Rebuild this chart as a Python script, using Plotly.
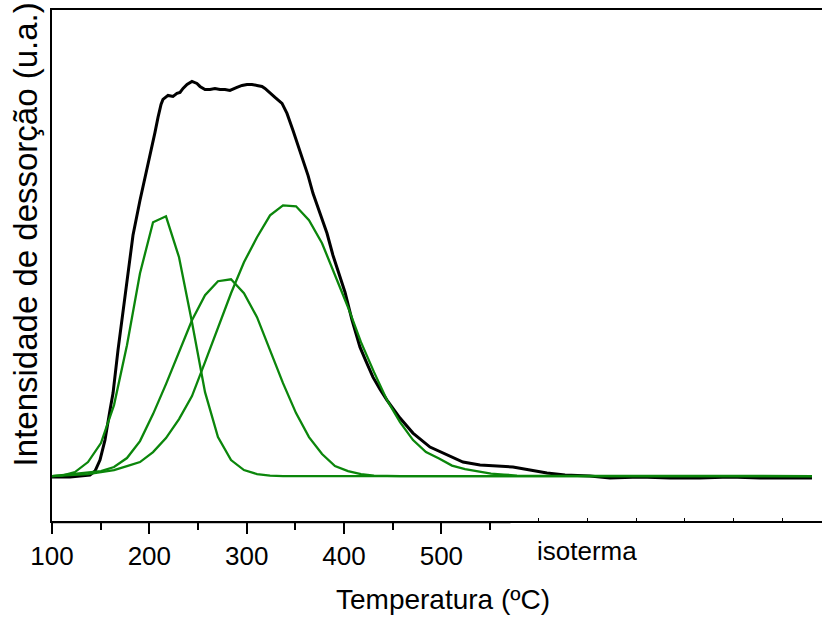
import plotly.graph_objects as go

# ---- data ----
# measured TPD signal (black)
black_T = [100.0, 118.5, 139.0, 144.2, 149.3, 154.4, 159.6, 162.7, 167.8, 172.9, 178.1, 183.2,
           190.4, 195.5, 200.7, 205.8, 208.9, 212.0, 214.0, 219.2, 224.3, 228.4, 231.5, 234.6,
           238.7, 243.8, 248.9, 252.0, 257.2, 262.3, 267.4, 272.6, 277.7, 282.8, 290.0, 295.2,
           300.3, 305.4, 310.6, 315.7, 318.8, 323.9, 329.1, 336.3, 341.4, 347.6, 352.7, 357.8,
           363.0, 368.1, 375.3, 382.5, 388.6, 395.8, 401.0, 408.2, 416.4, 422.5, 429.7, 436.9,
           444.1, 457.5, 470.8, 488.3, 505.8, 522.2, 539.7, 557.1, 573.5, 591.0, 608.5, 627.0,
           652.6, 673.2, 704.0, 734.8, 765.6, 796.5, 827.3, 858.0, 880.7]
black_I = [-1, -1, 1, 5, 16, 36, 66, 83, 126, 163, 206, 241,
           276, 298, 319, 344, 359, 372, 377, 381, 380, 383, 384, 388,
           392, 395, 393, 390, 387, 387, 388, 387, 387, 386, 389, 391,
           392, 392, 391, 390, 388, 384, 379, 373, 363, 346, 331, 316,
           301, 283, 263, 243, 221, 199, 184, 156, 129, 115, 99, 87,
           76, 58, 43, 29, 21, 14, 11, 10, 9, 6, 3, 1,
           0, -2, -1, -2, -2, -1, -2, -2, -2]

# deconvoluted components (green)
fit_T = [100.0, 110.3, 123.6, 137.0, 150.3, 163.7, 177.0, 190.4, 203.8, 217.1, 230.5, 243.8,
         257.2, 270.5, 283.9, 297.2, 310.6, 324.0, 337.3, 350.7, 364.0, 377.4, 390.7, 404.1,
         417.4, 430.8, 444.2, 457.5, 470.9, 484.2, 497.6, 510.9, 524.3, 537.6, 551.0, 564.3,
         577.7, 880.7]
peak1 = [0, 0.5, 4, 14, 33, 71, 131, 203, 254, 260, 219, 154,
         84, 39, 16, 6, 2, 0.5, 0, 0, 0, 0, 0, 0,
         0, 0, 0, 0, 0, 0, 0, 0, 0, 0, 0, 0, 0, 0]
peak2 = [0, 1, 2, 3, 5, 9, 18, 35, 62, 92, 125, 156,
         181, 195, 197, 183, 159, 126, 93, 63, 39, 22, 10, 5,
         2, 0.5, 0, 0, 0, 0, 0, 0, 0, 0, 0, 0, 0, 0]
peak3 = [0, 0.5, 1, 2, 4, 6, 10, 14, 24, 38, 57, 80,
         114, 149, 183, 214, 239, 261, 271, 270, 256, 233, 202, 169,
         134, 104, 76, 54, 36, 24, 17.5, 10.5, 7, 4.5, 2.5, 1.5, 0.5, 0]

tick_vals = [100, 200, 300, 400, 500]
tick_text = ["100", "200", "300", "400", "500"]
minor_vals = [150, 250, 350, 450, 550]
iso_ticks = [600, 650, 700, 750, 800, 850]
iso_label = "isoterma"
iso_label_T = 650

x_label = "Temperatura (ºC)"
y_label = "Intensidade de dessorção (u.a.)"

FONT = "Liberation Sans, Arial, sans-serif"
GREEN = "#0b860b"

fig = go.Figure()
fig.add_trace(go.Scatter(x=black_T, y=black_I, mode="lines",
                         line=dict(color="black", width=3), showlegend=False,
                         hoverinfo="skip"))
for p in (peak1, peak2, peak3):
    fig.add_trace(go.Scatter(x=fit_T, y=p, mode="lines",
                             line=dict(color=GREEN, width=2.3), showlegend=False,
                             hoverinfo="skip"))
# helper trace so the secondary (isotherm) axis is drawn
fig.add_trace(go.Scatter(x=[iso_ticks[0]], y=[None], xaxis="x2", mode="lines",
                         showlegend=False, hoverinfo="skip"))

XR = [100, 891.0]
fig.update_layout(
    width=822, height=618,
    margin=dict(l=52, r=0, t=9.5, b=97),
    paper_bgcolor="white", plot_bgcolor="white",
    font=dict(family=FONT, color="black", size=26),
    xaxis=dict(range=XR, showgrid=False, zeroline=False,
               showline=True, linecolor="black", linewidth=1.5, mirror=True,
               tickmode="array", tickvals=tick_vals, ticktext=tick_text,
               ticks="outside", ticklen=11, tickwidth=1.5, tickcolor="black",
               tickfont=dict(size=26, family=FONT, color="black"),
               minor=dict(tickmode="array", tickvals=minor_vals, ticks="outside",
                          ticklen=7, tickwidth=1.5, tickcolor="black", showgrid=False)),
    xaxis2=dict(range=XR, overlaying="x", anchor="y", side="bottom",
                showgrid=False, zeroline=False, showline=False,
                tickmode="array", tickvals=iso_ticks, showticklabels=False,
                ticks="inside", ticklen=3, tickwidth=1.2, tickcolor="black"),
    yaxis=dict(range=[-45, 466.5], showgrid=False, zeroline=False,
               showline=True, linecolor="black", linewidth=1.5, mirror=False,
               ticks="", showticklabels=False),
    shapes=[dict(type="line", xref="x", yref="paper", x0=100, x1=571,
                 y0=-0.004, y1=-0.004, line=dict(color="#b0b0b0", width=1.5),
                 layer="below")],
    annotations=[
        dict(text=iso_label, xref="x", yref="paper", x=iso_label_T, y=-0.0587,
             xanchor="center", yanchor="middle", showarrow=False,
             font=dict(size=26, family=FONT, color="black")),
        dict(text=x_label, xref="paper", yref="paper", x=0.5078, y=-0.1544,
             xanchor="center", yanchor="middle", showarrow=False,
             font=dict(size=28, family=FONT, color="black")),
        dict(text=y_label, xref="paper", yref="paper", x=-0.035, y=0.561,
             xanchor="center", yanchor="middle", showarrow=False, textangle=-90,
             font=dict(size=33, family=FONT, color="black")),
    ],
)

fig.write_html("out.html", config={"displayModeBar": False},
               post_script="document.body.style.margin='0px';")
